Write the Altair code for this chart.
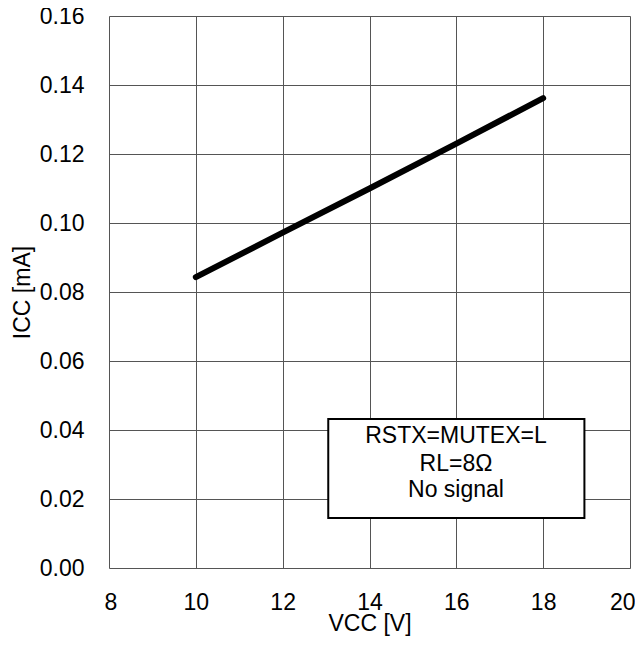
import altair as alt
import pandas as pd

vcc = [10, 12, 14, 16, 18]
icc = [0.0843, 0.0972, 0.1100, 0.1230, 0.1362]

note_lines = ["RSTX=MUTEX=L", "RL=8Ω", "No signal"]
box_x = [13.05]
box_x2 = [18.95]
box_y = [0.0145]
box_y2 = [0.0432]

FONT = "Liberation Sans"
FS = 23

df = pd.DataFrame({"VCC": vcc, "ICC": icc})

xscale = alt.Scale(domain=[8, 20], nice=False, zero=False)
yscale = alt.Scale(domain=[0, 0.16], nice=False)

xaxis = alt.Axis(values=[8, 10, 12, 14, 16, 18, 20], title="VCC [V]", ticks=False, domain=False,
                 grid=True, gridColor="#555555", gridWidth=1, labelFont=FONT, labelFontSize=FS,
                 labelColor="black", labelPadding=23, titleFont=FONT, titleFontSize=FS,
                 titleFontWeight="normal", titleColor="black", titlePadding=-2,
                 labelFlush=True, labelFlushOffset=5)
yaxis = alt.Axis(values=[0, 0.02, 0.04, 0.06, 0.08, 0.10, 0.12, 0.14, 0.16], format=".2f",
                 title="ICC [mA]", ticks=False, domain=False, grid=True, gridColor="#555555",
                 gridWidth=1, labelFont=FONT, labelFontSize=FS, labelColor="black", labelPadding=25,
                 titleFont=FONT, titleFontSize=FS, titleFontWeight="normal", titleColor="black",
                 titlePadding=5, labelFlush=False)

line = alt.Chart(df).mark_line(color="black", strokeWidth=6, strokeCap="round").encode(
    x=alt.X("VCC:Q", scale=xscale, axis=xaxis),
    y=alt.Y("ICC:Q", scale=yscale, axis=yaxis),
)

box_df = pd.DataFrame({"x": box_x, "x2": box_x2, "y": box_y, "y2": box_y2})
box = alt.Chart(box_df).mark_rect(fill="white", stroke="black", strokeWidth=2).encode(
    x=alt.X("x:Q", scale=xscale), x2="x2:Q",
    y=alt.Y("y:Q", scale=yscale), y2="y2:Q",
)

text_df = pd.DataFrame({"t": note_lines, "yy": [427, 455, 481]})
texts = alt.Chart(text_df).mark_text(font=FONT, fontSize=FS, color="black", align="center",
                                     baseline="alphabetic").encode(
    x=alt.value(347), y=alt.Y("yy:Q", scale=None), text="t:N"
)

chart = alt.layer(line, box, texts).properties(
    width=521, height=552,
    autosize=alt.AutoSizeParams(type="none"),
    padding={"left": 101, "top": 8, "right": 5, "bottom": 70},
).configure_view(stroke="black", strokeWidth=2).configure(background="white")

chart.save("out.html", embed_options={"renderer": "svg", "actions": False})
